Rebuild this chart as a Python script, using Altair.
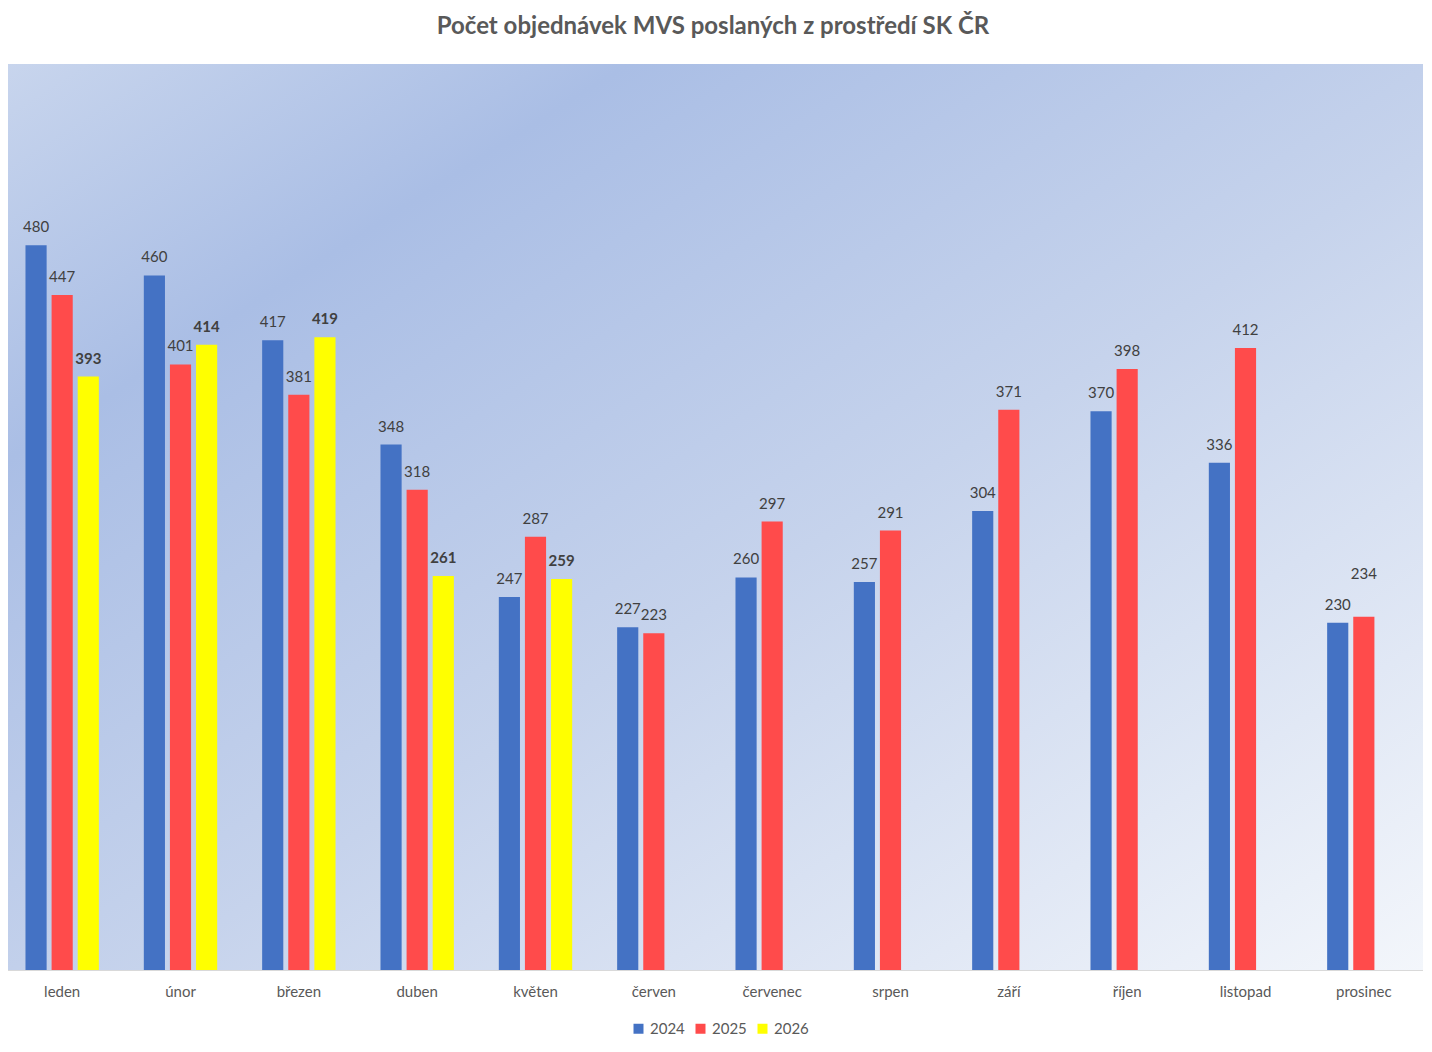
import altair as alt
import pandas as pd

months = ["leden", "únor", "březen", "duben", "květen", "červen", "červenec",
          "srpen", "září", "říjen", "listopad", "prosinec"]
v2024 = [480, 460, 417, 348, 247, 227, 260, 257, 304, 370, 336, 230]
v2025 = [447, 401, 381, 318, 287, 223, 297, 291, 371, 398, 412, 234]
v2026 = [393, 414, 419, 261, 259, None, None, None, None, None, None, None]
years = ["2024", "2025", "2026"]
colors = ["#4472C4", "#FF4B4B", "#FFFF00"]

rows = []
for yr, vals in zip(years, [v2024, v2025, v2026]):
    for m, v in zip(months, vals):
        if v is not None:
            rows.append({"month": m, "year": yr, "value": v})
df = pd.DataFrame(rows)

W, H = 1420, 906
FONT = "Lato"

x = alt.X("month:N", sort=months, title=None,
          scale=alt.Scale(paddingInner=0.38, paddingOuter=0.19),
          axis=alt.Axis(labelAngle=0, ticks=False, domain=True, domainColor="#d9d9d9",
                        labelFontSize=15, labelColor="#595959", labelPadding=14,
                        labelFont=FONT))
xo = alt.XOffset("year:N", scale=alt.Scale(domain=years, paddingInner=0.19, paddingOuter=0))
y = alt.Y("value:Q", scale=alt.Scale(domain=[0, 600]), axis=None)

bg = alt.Chart(pd.DataFrame({"a": [0]})).mark_rect(
    color=alt.Gradient(
        gradient="linear", x1=0, y1=0, x2=1, y2=1,
        stops=[alt.GradientStop(offset=0, color="#c8d5ed"),
               alt.GradientStop(offset=0.22, color="#aabee5"),
               alt.GradientStop(offset=0.55, color="#c6d3ec"),
               alt.GradientStop(offset=1, color="#f3f6fb")])
).encode(x=alt.value(0), x2=alt.value(W), y=alt.value(0), y2=alt.value(H))

base = alt.Chart(df)

bars = base.mark_bar().encode(
    x=x, xOffset=xo, y=y,
    color=alt.Color("year:N", scale=alt.Scale(domain=years, range=colors),
                    legend=alt.Legend(title=None, orient="none", direction="horizontal",
                                      legendX=628, legendY=957,
                                      symbolType="square", symbolSize=100,
                                      labelFontSize=15, labelColor="#595959",
                                      labelFont=FONT, columnPadding=8,
                                      symbolStrokeWidth=0))
)

normal = base.transform_filter(
    "datum.year != '2026' && !(datum.month == 'prosinec' && datum.year == '2025')"
).mark_text(fontSize=15, color="#404040", font=FONT, dy=-18, baseline="middle").encode(
    x=x, xOffset=xo, y=y, text="value:Q")

bold = base.transform_filter("datum.year == '2026'").mark_text(
    fontSize=15, color="#404040", font=FONT, dy=-18, baseline="middle", fontWeight="bold"
).encode(x=x, xOffset=xo, y=y, text="value:Q")

special = base.transform_filter(
    "datum.month == 'prosinec' && datum.year == '2025'"
).mark_text(fontSize=15, color="#404040", font=FONT, dy=-43, baseline="middle").encode(
    x=x, xOffset=xo, y=y, text="value:Q")

chart = alt.layer(bg, bars, normal, bold, special).properties(
    width=W, height=H,
    padding={"left": -5, "right": 0, "top": 7, "bottom": 5},
    title=alt.TitleParams("Počet objednávek MVS poslaných z prostředí SK ČR",
                          fontSize=24, fontWeight="bold", color="#595959",
                          font=FONT, anchor="middle", offset=25),
).configure_view(stroke=None)

chart.save("out.html", embed_options={"renderer": "svg", "actions": False})
